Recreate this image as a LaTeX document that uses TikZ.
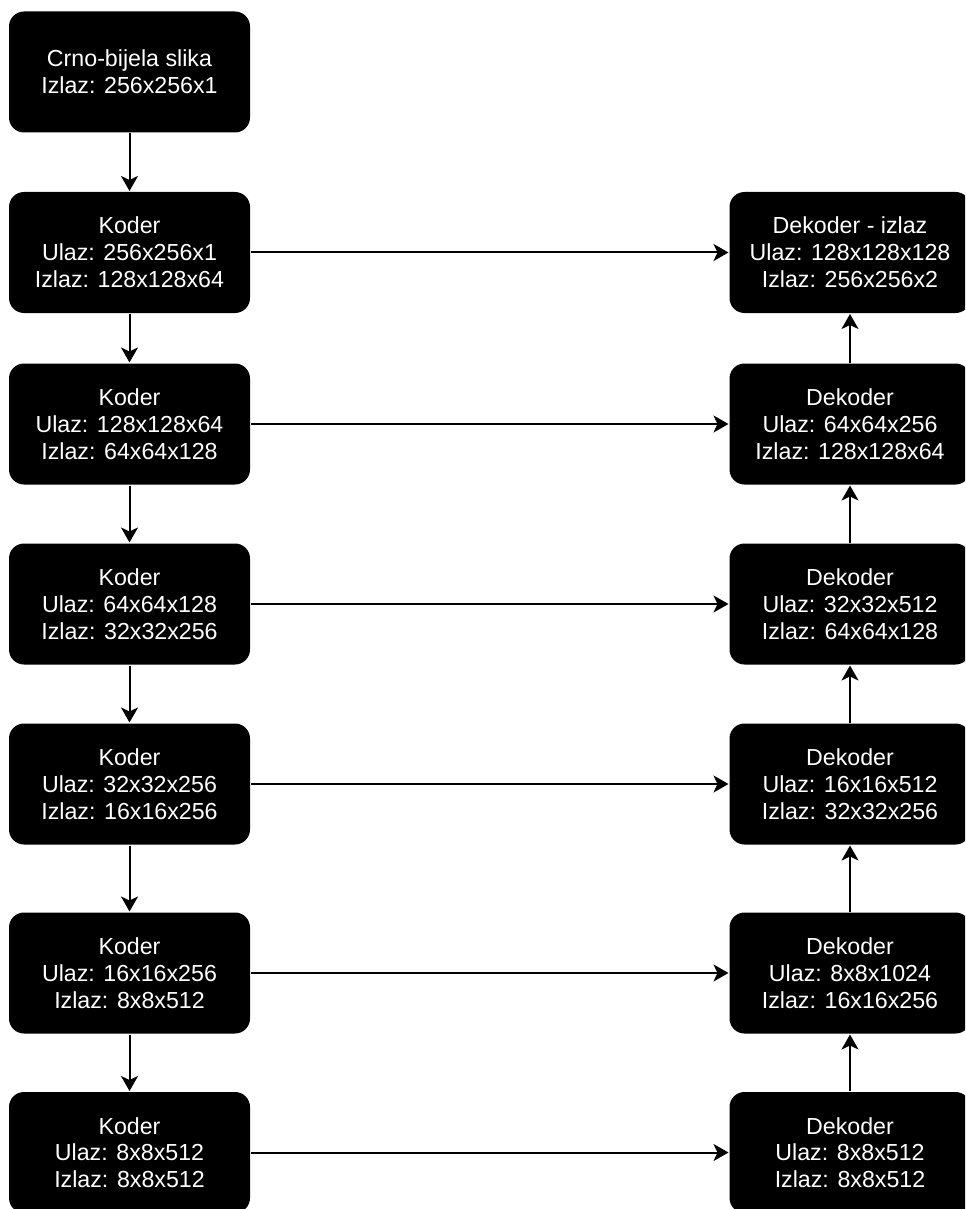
\documentclass[tikz,border=0pt]{standalone}
\usepackage{fontspec}
\setmainfont{Liberation Sans}
\usetikzlibrary{arrows.meta,positioning}

\begin{document}
\begin{tikzpicture}[
  x=0.5pt, y=-0.5pt,
  blk/.style={fill=black, text=white, rounded corners=7.5pt, minimum width=120.5pt,
    minimum height=60.5pt, align=center, inner sep=0pt,
    font=\fontsize{11.6}{13.4}\selectfont},
  >={Stealth[length=7.5pt, width=8.5pt, inset=2pt]}, line width=1pt
]
  \clip (0,0) rectangle (965,1209);

  % encoder side
  \node[blk] (img) at (129.5,72)     {Crno-bijela slika\\Izlaz: 256x256x1};
  \node[blk] (enc1) at (129.5,252.5) {Koder\\Ulaz: 256x256x1\\Izlaz: 128x128x64};
  \node[blk] (enc2) at (129.5,424)   {Koder\\Ulaz: 128x128x64\\Izlaz: 64x64x128};
  \node[blk] (enc3) at (129.5,604)   {Koder\\Ulaz: 64x64x128\\Izlaz: 32x32x256};
  \node[blk] (enc4) at (129.5,784)   {Koder\\Ulaz: 32x32x256\\Izlaz: 16x16x256};
  \node[blk] (enc5) at (129.5,973)   {Koder\\Ulaz: 16x16x256\\Izlaz: 8x8x512};
  \node[blk] (enc6) at (129.5,1152.5) {Koder\\Ulaz: 8x8x512\\Izlaz: 8x8x512};

  % decoder side
  \node[blk] (out)  at (850,252.5)  {Dekoder - izlaz\\Ulaz: 128x128x128\\Izlaz: 256x256x2};
  \node[blk] (dec5) at (850,424)    {Dekoder\\Ulaz: 64x64x256\\Izlaz: 128x128x64};
  \node[blk] (dec4) at (850,604)    {Dekoder\\Ulaz: 32x32x512\\Izlaz: 64x64x128};
  \node[blk] (dec3) at (850,784)    {Dekoder\\Ulaz: 16x16x512\\Izlaz: 32x32x256};
  \node[blk] (dec2) at (850,973)    {Dekoder\\Ulaz: 8x8x1024\\Izlaz: 16x16x256};
  \node[blk] (dec1) at (850,1152.5) {Dekoder\\Ulaz: 8x8x512\\Izlaz: 8x8x512};

  % down the encoder
  \draw[->] (img) -- (enc1);
  \draw[->] (enc1) -- (enc2);
  \draw[->] (enc2) -- (enc3);
  \draw[->] (enc3) -- (enc4);
  \draw[->] (enc4) -- (enc5);
  \draw[->] (enc5) -- (enc6);

  % up the decoder
  \draw[->] (dec1) -- (dec2);
  \draw[->] (dec2) -- (dec3);
  \draw[->] (dec3) -- (dec4);
  \draw[->] (dec4) -- (dec5);
  \draw[->] (dec5) -- (out);

  % skip connections
  \draw[->] (enc1) -- (out);
  \draw[->] (enc2) -- (dec5);
  \draw[->] (enc3) -- (dec4);
  \draw[->] (enc4) -- (dec3);
  \draw[->] (enc5) -- (dec2);
  \draw[->] (enc6) -- (dec1);
\end{tikzpicture}
\end{document}
